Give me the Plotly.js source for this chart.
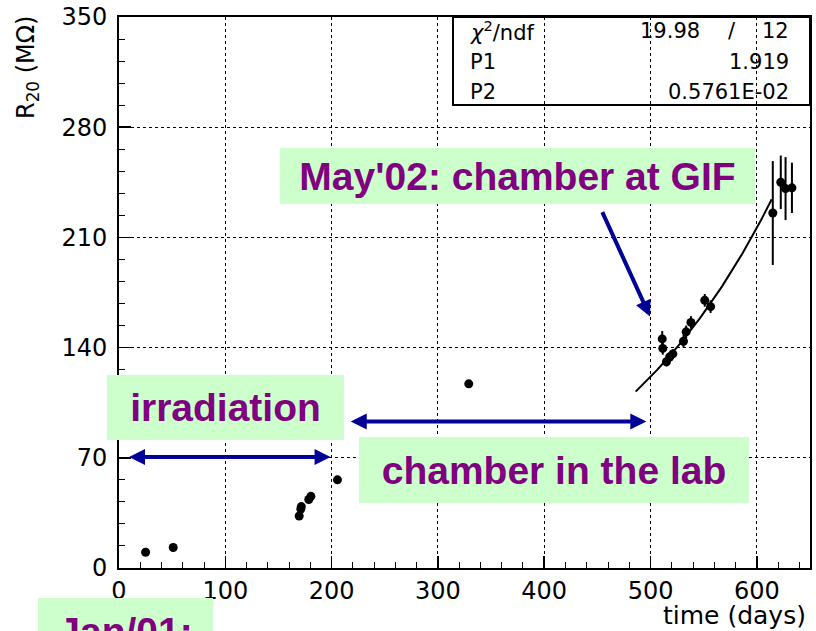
<!DOCTYPE html>
<html><head><meta charset="utf-8">
<script src="https://cdn.plot.ly/plotly-3.0.1.min.js"></script>
<style>html,body{margin:0;padding:0;background:#fff;} #chart{width:816px;height:631px;}</style>
</head><body><div id="chart"></div>
<script>
// ---- data ----
const timeDays      = [25, 51, 169.5, 171, 171.5, 178.5, 180.5, 205.5, 329, 511, 511.5, 515, 518, 521, 531, 533.5, 538, 551, 556.5, 615, 622.5, 627, 633];
const resistance    = [10, 13, 33, 37.5, 39, 43.5, 45.5, 56, 117, 145.5, 139.5, 131, 134, 136, 144, 150, 156, 170, 166, 225.5, 245, 241, 241.5];
const resistanceErr = [0, 0, 0, 0, 0, 0, 0, 0, 0, 5, 4, 3, 3, 3, 4, 4, 4, 4, 4, 33, 17, 20, 16];
const fitP1 = 1.919;
const fitP2 = 0.005761;
const fitRange = [486, 615];
const statLabels = ['<i>χ</i><sup>2</sup>/ndf', 'P1', 'P2'];
const statValues = ['19.98', '1.919', '0.5761E-02'];
const statNdf = '12';
const xTickVals = [0, 100, 200, 300, 400, 500, 600];
const yTickVals = [0, 70, 140, 210, 280, 350];

// fit function exp(P1 + P2*t)
const fitT = [], fitR = [];
for (let t = fitRange[0]; t <= fitRange[1]; t += 2) { fitT.push(t); fitR.push(Math.exp(fitP1 + fitP2 * t)); }

// pixel helpers for the overlay boxes
const L = 119, R = 810, T = 17, B = 568;
const px = v => (v - L) / (R - L);
const py = v => (B - v) / (B - T);

const tickFont = {family: 'DejaVu Sans', size: 24, color: '#000'};
const boxFont = {family: 'Liberation Sans, Arial', size: 39, color: '#800080', weight: 'bold'};
const statFont = {family: 'DejaVu Sans', size: 21, color: '#000'};
const arrowColor = '#000096';

const traces = [
  {x: fitT, y: fitR, mode: 'lines', line: {color: '#000', width: 2}, hoverinfo: 'skip', showlegend: false},
  {x: timeDays, y: resistance, mode: 'markers', showlegend: false,
   marker: {color: '#000', size: 9},
   error_y: {type: 'data', array: resistanceErr, visible: true, color: '#000', thickness: 2, width: 0}}
];

function greenBox(text, cx, cy, w, h, yanchor) {
  return {xref: 'paper', yref: 'paper', x: px(cx), y: py(cy), xanchor: 'center', yanchor: yanchor || 'middle',
          text: text, showarrow: false, font: boxFont, bgcolor: '#ccffcc', borderpad: 0, borderwidth: 0,
          width: w, height: h, align: 'center', valign: 'middle'};
}
function arrow(x0, y0, x1, y1, both) {
  return {xref: 'x', yref: 'y', axref: 'x', ayref: 'y', x: x1, y: y1, ax: x0, ay: y0, text: '',
          showarrow: true, arrowhead: 2, arrowsize: 0.8, arrowwidth: 4, arrowcolor: arrowColor,
          arrowside: both ? 'end+start' : 'end', startarrowhead: 2, startarrowsize: 0.8, standoff: 0, startstandoff: 0};
}

const annotations = [
  greenBox("May'02: chamber at GIF", 517, 176, 475, 56),
  greenBox('irradiation', 225.5, 407.5, 237, 65),
  greenBox('chamber in the lab', 554, 470, 390, 66),
  greenBox('Jan/01:', 125.5, 598, 175, 66, 'top'),
  arrow(8, 70.5, 199, 70.5, true),
  arrow(216.6, 93, 496, 93, true),
  arrow(454, 227, 499.5, 159.7, false),
  // axis titles
  {xref: 'paper', yref: 'paper', x: px(27), y: py(68), xanchor: 'center', yanchor: 'middle', textangle: -90,
   text: 'R<sub>20</sub> (MΩ)', showarrow: false, font: {family: 'DejaVu Sans', size: 24, color: '#000'}},
  {xref: 'paper', yref: 'paper', x: px(808), y: py(615), xanchor: 'right', yanchor: 'middle',
   text: 'time (days)', showarrow: false, font: {family: 'DejaVu Sans', size: 25, color: '#000'}},
];
// stats box texts
const rowY = [31, 62, 92];
statLabels.forEach((s, i) => annotations.push({xref: 'paper', yref: 'paper', x: px(468), y: py(rowY[i]), xanchor: 'left', yanchor: 'middle', text: s, showarrow: false, font: statFont}));
annotations.push({xref: 'paper', yref: 'paper', x: px(702), y: py(rowY[0]), xanchor: 'right', yanchor: 'middle', text: statValues[0], showarrow: false, font: statFont});
annotations.push({xref: 'paper', yref: 'paper', x: px(732), y: py(rowY[0]), xanchor: 'center', yanchor: 'middle', text: '/', showarrow: false, font: statFont});
annotations.push({xref: 'paper', yref: 'paper', x: px(791), y: py(rowY[0]), xanchor: 'right', yanchor: 'middle', text: statNdf, showarrow: false, font: statFont});
annotations.push({xref: 'paper', yref: 'paper', x: px(791), y: py(rowY[1]), xanchor: 'right', yanchor: 'middle', text: statValues[1], showarrow: false, font: statFont});
annotations.push({xref: 'paper', yref: 'paper', x: px(791), y: py(rowY[2]), xanchor: 'right', yanchor: 'middle', text: statValues[2], showarrow: false, font: statFont});

const layout = {
  width: 816, height: 631,
  margin: {l: L, r: 816 - R, t: T, b: 631 - B, pad: 0},
  paper_bgcolor: '#fff', plot_bgcolor: '#fff',
  showlegend: false,
  xaxis: {range: [0, 650], tickvals: xTickVals, ticks: 'inside', ticklen: 12, tickwidth: 1.5, tickcolor: '#000',
          showline: true, linewidth: 2, linecolor: '#000', mirror: true, zeroline: false,
          showgrid: true, gridcolor: '#000', gridwidth: 1, griddash: 'dot',
          minor: {dtick: 20, ticks: 'inside', ticklen: 6, tickwidth: 1, tickcolor: '#000', showgrid: false},
          tickfont: tickFont, ticklabelstandoff: 0, fixedrange: true},
  yaxis: {range: [0, 350], tickvals: yTickVals, ticks: 'inside', ticklen: 12, tickwidth: 1.5, tickcolor: '#000',
          showline: true, linewidth: 2, linecolor: '#000', mirror: true, zeroline: false,
          showgrid: true, gridcolor: '#000', gridwidth: 1, griddash: 'dot',
          minor: {dtick: 14, ticks: 'inside', ticklen: 6, tickwidth: 1, tickcolor: '#000', showgrid: false},
          tickfont: tickFont, ticklabelstandoff: 5, fixedrange: true},
  shapes: [
    {type: 'rect', xref: 'paper', yref: 'paper', x0: px(453), x1: 1, y0: py(105), y1: 1,
     line: {color: '#000', width: 2}, fillcolor: 'rgba(0,0,0,0)', layer: 'above'}
  ],
  annotations: annotations
};

Plotly.newPlot('chart', traces, layout, {displayModeBar: false, staticPlot: true});
</script>
</body></html>
